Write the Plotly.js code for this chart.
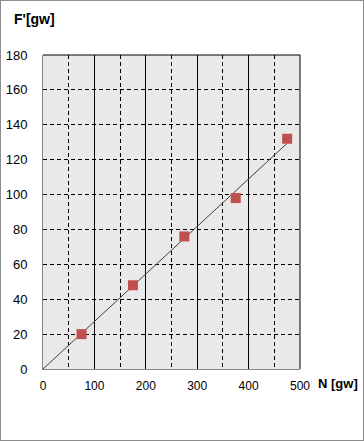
<!DOCTYPE html>
<html><head><meta charset="utf-8">
<script src="https://cdn.plot.ly/plotly-3.0.1.min.js"></script>
<style>html,body{margin:0;padding:0;background:#fff}#c{width:362px;height:439px;border:1px solid #8c8c8c}</style>
</head><body><div id="c"></div>
<script>
const loadN = [75, 175, 275, 375, 475];
const forceF = [20, 48, 76, 98, 132];
const trendX = [0, 475];
const trendY = [0, 129.4];
const xTicks = [0, 100, 200, 300, 400, 500];
const yTicks = [0, 20, 40, 60, 80, 100, 120, 140, 160, 180];

const font = {family: 'Liberation Sans, Arial, sans-serif', size: 13, color: '#000'};
const data = [
  {x: trendX, y: trendY, mode: 'lines', line: {color: '#404040', width: 1}, hoverinfo: 'skip'},
  {x: loadN, y: forceF, mode: 'markers', marker: {symbol: 'square', size: 10, color: '#c0504d'}}
];
const layout = {
  width: 362, height: 439,
  margin: {l: 42, r: 63, t: 54, b: 71},
  paper_bgcolor: '#fff', plot_bgcolor: '#e9e9e9',
  showlegend: false, font: font,
  xaxis: {range: [0, 500], tickvals: xTicks, ticktext: xTicks.map(String),
    showgrid: true, gridcolor: '#000', gridwidth: 1,
    minor: {dtick: 50, tick0: 0, showgrid: true, gridcolor: '#000', griddash: '4px,3px', gridwidth: 1},
    zeroline: false, showline: true, linecolor: '#868686', linewidth: 1,
    ticks: '', ticklabelstandoff: 6, tickfont: {size: 12}, fixedrange: true},
  yaxis: {range: [0, 180], tickvals: yTicks, ticktext: yTicks.map(String),
    showgrid: true, gridcolor: '#000', gridwidth: 1, griddash: '4px,3px',
    zeroline: false, showline: true, linecolor: '#868686', linewidth: 1,
    ticks: '', ticklabelstandoff: 12, tickfont: {size: 13}, fixedrange: true},
  shapes: [
    {type: 'line', xref: 'paper', yref: 'paper', x0: 0, x1: 1, y0: 1, y1: 1, line: {color: '#000', width: 1}},
    {type: 'line', xref: 'paper', yref: 'paper', x0: 1, x1: 1, y0: 0, y1: 1, line: {color: '#000', width: 1}}
  ],
  annotations: [
    {text: "<b>F'[gw]</b>", xref: 'paper', yref: 'paper', x: -0.12, y: 1.0, yshift: 36,
     xanchor: 'left', yanchor: 'middle', showarrow: false, font: {size: 14}},
    {text: '<b>N [gw]</b>', xref: 'paper', yref: 'paper', x: 1.0, xshift: 16, y: 0, yshift: -14,
     xanchor: 'left', yanchor: 'middle', showarrow: false, font: {size: 13}}
  ]
};
Plotly.newPlot('c', data, layout, {displayModeBar: false, staticPlot: true});
</script></body></html>
